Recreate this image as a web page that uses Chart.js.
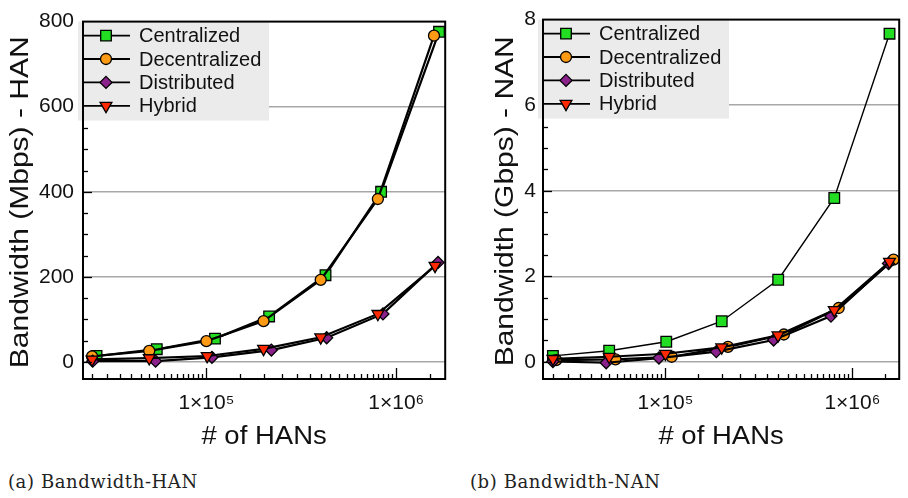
<!DOCTYPE html>
<html>
<head>
<meta charset="utf-8">
<script src="https://cdn.jsdelivr.net/npm/chart.js@4.4.1/dist/chart.umd.min.js"></script>
<style>
  html, body { margin: 0; padding: 0; background: #fff; }
  #wrap { position: relative; width: 908px; height: 498px; }
  .panel { position: absolute; top: 0; }
  .cap { position: absolute; top: 471px; font-family: "DejaVu Serif", serif; font-size: 18px; letter-spacing: 0.6px; color: #222; white-space: nowrap; }
</style>
</head>
<body>
<div id="wrap">
  <canvas id="chartA" class="panel" style="left:0" width="454" height="460"></canvas>
  <canvas id="chartB" class="panel" style="left:454px" width="454" height="460"></canvas>
  <div class="cap" style="left:8px">(a) Bandwidth-HAN</div>
  <div class="cap" style="left:470px">(b) Bandwidth-NAN</div>
</div>
<script>
// Bandwidth vs number of HANs, two panels

const seriesNames = ['Centralized', 'Decentralized', 'Distributed', 'Hybrid'];

// (a) HAN bandwidth, Mbps
const hanA_centralized   = [26400, 54800, 111000, 214000, 424000, 832000, 1680000];
const hanA_decentralized = [25000, 50000, 100000, 200000, 400000, 800000, 1580000];
const hanA_distributed   = [25200, 54000, 107000, 220000, 430000, 851000, 1660000];
const hanA_hybrid        = [25000, 50000, 101000, 200000, 400000, 800000, 1600000];
const bwA_centralized    = [14, 30, 55, 107, 204, 400, 776];
const bwA_decentralized  = [13, 26, 49, 96, 193, 383, 767];
const bwA_distributed    = [2, 2, 11, 28, 57, 113, 234];
const bwA_hybrid         = [6, 9, 14, 31, 58, 113, 226];

// (b) NAN bandwidth, Gbps
const hanB_centralized   = [25000, 50000, 101000, 200000, 401000, 800000, 1580000];
const hanB_decentralized = [26000, 54000, 108000, 216000, 430000, 845000, 1660000];
const hanB_distributed   = [25000, 48200, 92300, 187000, 379000, 768000, 1560000];
const hanB_hybrid        = [25000, 50000, 100000, 200000, 400000, 800000, 1580000];
const bwB_centralized    = [0.14, 0.26, 0.47, 0.95, 1.92, 3.83, 7.67];
const bwB_decentralized  = [0.04, 0.06, 0.12, 0.35, 0.64, 1.26, 2.39];
const bwB_distributed    = [0.01, -0.02, 0.09, 0.24, 0.51, 1.07, 2.30];
const bwB_hybrid         = [0.07, 0.12, 0.19, 0.34, 0.62, 1.21, 2.34];

const xTickValues = [1e5, 1e6];
const xTickLabels = ['1×10⁵', '1×10⁶'];
const yTicksA = [0, 200, 400, 600, 800];
const yTicksB = [0, 2, 4, 6, 8];
const xTitle = '# of HANs';

const FONT = '"Liberation Sans", Arial, Helvetica, sans-serif';

const markers = [
    { pointStyle: 'rect', radius: 7.5, rotation: 0, color: '#22dd22' },
    { pointStyle: 'circle', radius: 5.5, rotation: 0, color: '#ff9a14' },
    { pointStyle: 'rectRot', radius: 6, rotation: 0, color: '#8b218b' },
    { pointStyle: 'triangle', radius: 6.8, rotation: 180, color: '#ff2a00' }
];

function toPoints(xs, ys) {
    return xs.map((x, i) => ({ x: x, y: ys[i] }));
}

function makeDatasets(xsList, ysList, widths) {
    return seriesNames.map((name, i) => ({
        label: name,
        data: toPoints(xsList[i], ysList[i]),
        borderColor: '#000',
        borderWidth: widths[i],
        pointStyle: markers[i].pointStyle,
        pointRadius: markers[i].radius,
        pointRotation: markers[i].rotation,
        pointBackgroundColor: markers[i].color,
        pointBorderColor: '#000',
        pointBorderWidth: 1.3,
        order: 4 - i,
        tension: 0
    }));
}

// stretched text helper (the original figure's lettering is a bit wide)
function stretchedText(ctx, text, cx, cy, size, stretch, rotate) {
    ctx.save();
    ctx.translate(cx, cy);
    if (rotate) ctx.rotate(-Math.PI / 2);
    ctx.scale(stretch, 1);
    ctx.font = size + 'px ' + FONT;
    ctx.fillStyle = '#111';
    ctx.textAlign = 'center';
    ctx.textBaseline = 'middle';
    ctx.fillText(text, 0, 0);
    ctx.restore();
}

// inside ticks, legend box, frame and axis titles
const framePlugin = {
    id: 'framePlugin',
    afterDraw(chart, args, opts) {
        const ctx = chart.ctx;
        const a = chart.chartArea;
        const x = chart.scales.x;
        const y = chart.scales.y;
        ctx.save();
        ctx.strokeStyle = '#000';
        ctx.lineWidth = 1.3;

        // y ticks
        for (let k = 0; k * opts.yStep <= y.max + 1e-9; k++) {
            const v = k * opts.yStep;
            const r = v / opts.yMajor;
            const len = Math.abs(r - Math.round(r)) < 1e-6 ? 9 : 5;
            const py = Math.round(y.getPixelForValue(v)) + 0.5;
            ctx.beginPath();
            ctx.moveTo(a.left, py);
            ctx.lineTo(a.left + len, py);
            ctx.stroke();
        }
        // x ticks (log)
        [1e4, 1e5, 1e6].forEach(d => {
            for (let m = 1; m < 10; m += 0.5) {
                const v = m * d;
                if (v < x.min || v > x.max) continue;
                const px = Math.round(x.getPixelForValue(v)) + 0.5;
                const len = m === 1 ? 11 : 5;
                ctx.beginPath();
                ctx.moveTo(px, a.bottom);
                ctx.lineTo(px, a.bottom - len);
                ctx.stroke();
            }
        });

        // legend
        ctx.fillStyle = '#ebebeb';
        ctx.fillRect(a.left - 5, a.top, 191, 99);
        chart.data.datasets.forEach((ds, i) => {
            const ly = a.top + 14 + i * 23.4;
            ctx.strokeStyle = '#000';
            ctx.lineWidth = 1.8;
            ctx.beginPath();
            ctx.moveTo(a.left, ly);
            ctx.lineTo(a.left + 47, ly);
            ctx.stroke();
            ctx.fillStyle = ds.pointBackgroundColor;
            ctx.lineWidth = 1.3;
            Chart.helpers.drawPoint(ctx, {
                pointStyle: ds.pointStyle,
                radius: ds.pointRadius,
                rotation: ds.pointRotation,
                borderWidth: 1.3
            }, a.left + 23, ly);
            ctx.fillStyle = '#111';
            ctx.font = '20px ' + FONT;
            ctx.textBaseline = 'middle';
            ctx.textAlign = 'left';
            ctx.fillText(ds.label, a.left + 56, ly + 1);
        });

        // frame
        ctx.strokeStyle = '#000';
        ctx.lineWidth = 2;
        ctx.strokeRect(a.left, a.top, a.width, a.height);

        // axis titles
        stretchedText(ctx, xTitle, (a.left + a.right) / 2, 437, 25, 1.1, false);
        stretchedText(ctx, opts.yTitle, opts.yTitleX, (a.top + a.bottom) / 2 + 2, 25, 1.2, true);
        ctx.restore();
    }
};

function makeChart(id, cfg) {
    const ctx = document.getElementById(id).getContext('2d');
    return new Chart(ctx, {
        type: 'line',
        data: { datasets: cfg.datasets },
        options: {
            responsive: false,
            animation: false,
            events: [],
            layout: { padding: { top: 14, right: cfg.padRight, left: 0, bottom: 0 } },
            plugins: {
                legend: { display: false },
                tooltip: { enabled: false },
                framePlugin: { yStep: cfg.yStep, yMajor: cfg.yMajor, yTitle: cfg.yTitle, yTitleX: cfg.yTitleX }
            },
            scales: {
                x: {
                    type: 'logarithmic',
                    min: cfg.xMin,
                    max: cfg.xMax,
                    afterBuildTicks: s => { s.ticks = xTickValues.map(v => ({ value: v })); },
                    afterFit: s => { s.height = 81; },
                    grid: { display: false, drawTicks: false },
                    border: { display: false },
                    ticks: {
                        autoSkip: false,
                        maxRotation: 0,
                        padding: 12,
                        color: '#111',
                        font: { family: FONT, size: 21 },
                        callback: (v, i) => xTickLabels[i]
                    }
                },
                y: {
                    min: cfg.yMin,
                    max: cfg.yMax,
                    afterBuildTicks: s => { s.ticks = cfg.yTicks.map(v => ({ value: v })); },
                    afterFit: s => { s.width = cfg.yWidth; },
                    grid: {
                        drawTicks: false,
                        color: c => (c.tick && c.tick.value === cfg.yMax) ? 'rgba(0,0,0,0)' : '#a8a8a8',
                        lineWidth: 1.5
                    },
                    border: { display: false },
                    ticks: {
                        padding: cfg.yLabelPad,
                        color: '#111',
                        font: { family: FONT, size: 21 }
                    }
                }
            }
        },
        plugins: [framePlugin]
    });
}

makeChart('chartA', {
    datasets: makeDatasets(
        [hanA_centralized, hanA_decentralized, hanA_distributed, hanA_hybrid],
        [bwA_centralized, bwA_decentralized, bwA_distributed, bwA_hybrid],
        [2.2, 2.2, 2.2, 2.2]),
    xMin: 22400, xMax: 1810000,
    yMin: -40, yMax: 800, yStep: 50, yMajor: 200, yTicks: yTicksA,
    yWidth: 83, padRight: 6, yLabelPad: 9, yTitleX: 21,
    yTitle: 'Bandwidth (Mbps) - HAN'
});

makeChart('chartB', {
    datasets: makeDatasets(
        [hanB_centralized, hanB_decentralized, hanB_distributed, hanB_hybrid],
        [bwB_centralized, bwB_decentralized, bwB_distributed, bwB_hybrid],
        [1.4, 2.2, 2.2, 2.2]),
    xMin: 22130, xMax: 1780000,
    yMin: -0.4, yMax: 8, yStep: 0.5, yMajor: 2, yTicks: yTicksB,
    yWidth: 89, padRight: 1, yLabelPad: 7, yTitleX: 52,
    yTitle: 'Bandwidth (Gbps) - NAN'
});
</script>
</body>
</html>
